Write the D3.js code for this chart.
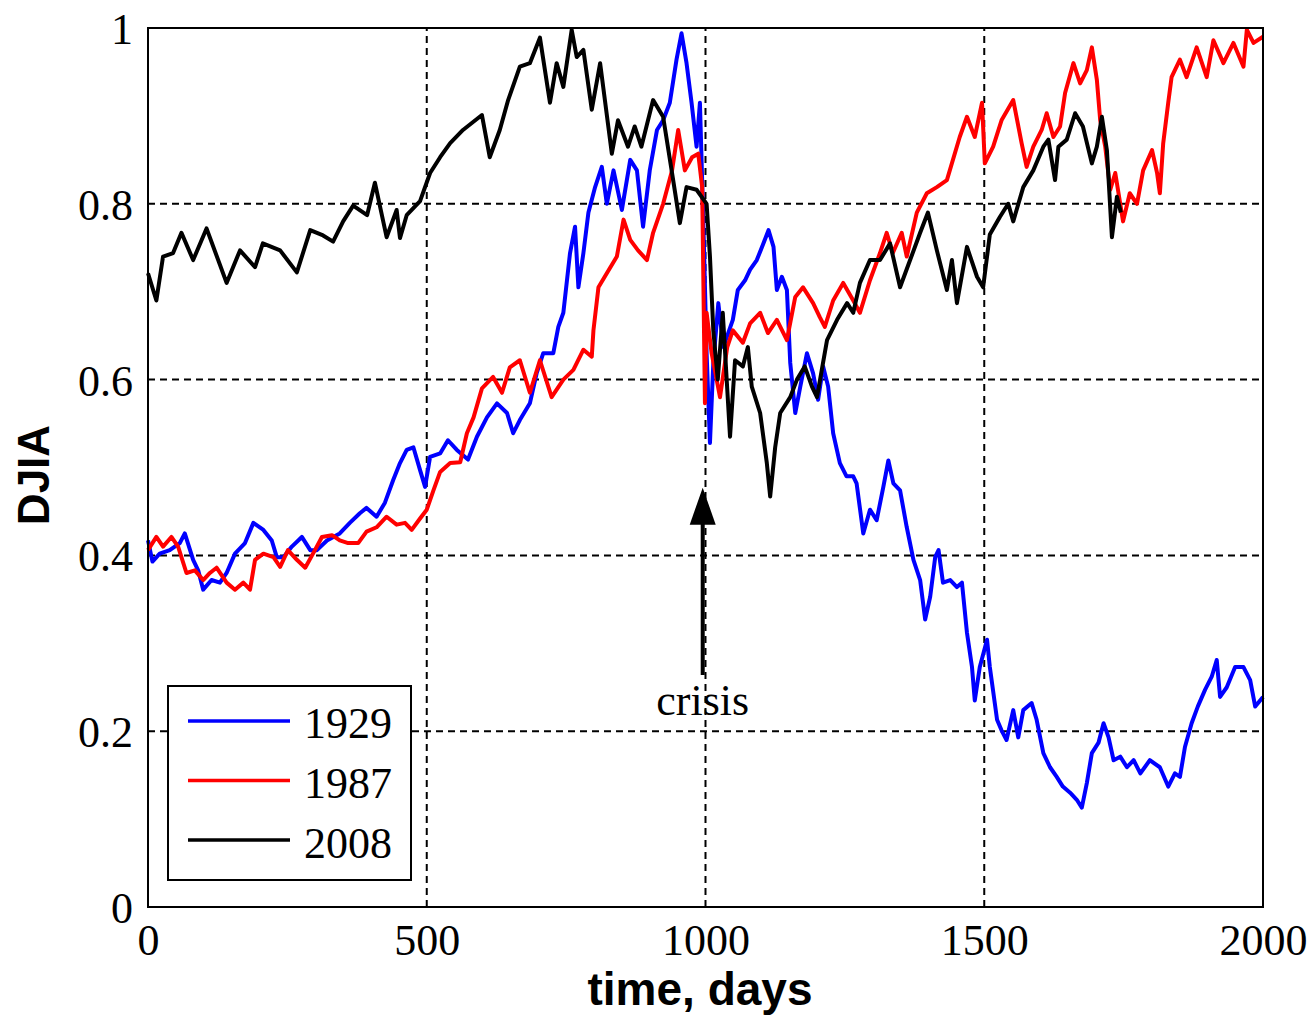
<!DOCTYPE html>
<html lang="en">
<head>
    <meta charset="UTF-8">
    <title>DJIA crises</title>
    <script src="https://d3js.org/d3.v7.min.js"></script>
    <style>
        body { margin: 0; background: #fff; }
        .tick-label { font-family: "Liberation Serif", "Times New Roman", serif; font-size: 44px; fill: #000; }
        .axis-label { font-family: "Liberation Sans", Arial, sans-serif; font-weight: bold; font-size: 46px; fill: #000; }
    </style>
</head>
<body>
    <script>
        // values, day -> normalised DJIA
        const days1929 = [0, 8, 21, 39, 57, 66, 81, 90, 99, 114, 129, 141, 156, 174, 189, 207, 222, 231, 243, 258, 276, 291, 303, 321, 344, 362, 380, 392, 410, 425, 440, 452, 464, 476, 488, 497, 506, 524, 538, 554, 574, 590, 608, 626, 644, 655, 667, 685, 697, 709, 727, 736, 745, 757, 766, 772, 781, 790, 802, 814, 823, 835, 850, 865, 877, 888, 900, 913, 924, 936, 948, 957, 966, 975, 984, 990, 996, 1002, 1008, 1014, 1023, 1032, 1049, 1058, 1071, 1080, 1092, 1104, 1113, 1122, 1128, 1137, 1146, 1152, 1161, 1170, 1182, 1193, 1202, 1211, 1220, 1229, 1241, 1253, 1265, 1271, 1283, 1295, 1307, 1319, 1328, 1337, 1349, 1361, 1373, 1385, 1394, 1403, 1412, 1418, 1426, 1439, 1451, 1460, 1469, 1478, 1483, 1492, 1505, 1510, 1523, 1531, 1540, 1552, 1561, 1570, 1585, 1594, 1606, 1618, 1630, 1641, 1654, 1666, 1675, 1684, 1693, 1705, 1714, 1723, 1732, 1744, 1756, 1768, 1780, 1797, 1815, 1830, 1842, 1851, 1860, 1872, 1883, 1896, 1908, 1917, 1923, 1935, 1950, 1965, 1977, 1986, 2000];
        const djia1929 = [0.417, 0.393, 0.402, 0.406, 0.414, 0.425, 0.395, 0.383, 0.361, 0.372, 0.369, 0.38, 0.402, 0.414, 0.437, 0.429, 0.417, 0.398, 0.398, 0.41, 0.421, 0.406, 0.406, 0.417, 0.425, 0.437, 0.448, 0.454, 0.444, 0.46, 0.486, 0.505, 0.52, 0.523, 0.497, 0.478, 0.512, 0.516, 0.531, 0.52, 0.509, 0.535, 0.557, 0.573, 0.562, 0.539, 0.554, 0.573, 0.607, 0.63, 0.63, 0.66, 0.676, 0.744, 0.774, 0.705, 0.744, 0.79, 0.819, 0.842, 0.80, 0.838, 0.793, 0.85, 0.838, 0.774, 0.838, 0.884, 0.895, 0.915, 0.964, 0.994, 0.96, 0.915, 0.865, 0.915, 0.782, 0.63, 0.528, 0.619, 0.687, 0.637, 0.668, 0.702, 0.713, 0.725, 0.736, 0.755, 0.77, 0.751, 0.702, 0.717, 0.702, 0.619, 0.562, 0.592, 0.63, 0.607, 0.577, 0.615, 0.592, 0.539, 0.505, 0.49, 0.49, 0.482, 0.425, 0.452, 0.44, 0.478, 0.508, 0.482, 0.474, 0.432, 0.395, 0.372, 0.327, 0.353, 0.398, 0.406, 0.369, 0.372, 0.364, 0.369, 0.312, 0.273, 0.235, 0.273, 0.304, 0.273, 0.213, 0.201, 0.19, 0.224, 0.193, 0.224, 0.232, 0.213, 0.175, 0.159, 0.148, 0.137, 0.13, 0.122, 0.113, 0.141, 0.175, 0.187, 0.209, 0.193, 0.167, 0.171, 0.159, 0.167, 0.152, 0.167, 0.159, 0.137, 0.152, 0.148, 0.182, 0.209, 0.228, 0.247, 0.262, 0.281, 0.239, 0.25, 0.273, 0.273, 0.258, 0.228, 0.239];

        const days1987 = [0, 15, 27, 42, 54, 69, 84, 99, 111, 123, 141, 156, 171, 183, 192, 207, 225, 237, 251, 267, 282, 296, 312, 330, 344, 359, 377, 392, 410, 428, 446, 461, 473, 488, 500, 512, 524, 542, 560, 572, 584, 599, 619, 635, 649, 667, 685, 703, 724, 745, 763, 781, 796, 799, 808, 823, 841, 853, 865, 879, 895, 906, 924, 940, 951, 963, 976, 987, 994, 999, 1002, 1011, 1026, 1039, 1049, 1067, 1080, 1098, 1112, 1128, 1146, 1161, 1175, 1193, 1205, 1214, 1229, 1247, 1265, 1277, 1295, 1313, 1325, 1336, 1352, 1361, 1379, 1397, 1415, 1433, 1456, 1469, 1483, 1496, 1501, 1516, 1531, 1552, 1567, 1576, 1588, 1603, 1612, 1624, 1636, 1645, 1660, 1672, 1684, 1693, 1702, 1708, 1717, 1726, 1735, 1749, 1761, 1774, 1785, 1801, 1810, 1815, 1821, 1830, 1836, 1851, 1863, 1881, 1899, 1911, 1929, 1947, 1965, 1971, 1983, 2000];
        const djia1987 = [0.406, 0.421, 0.41, 0.421, 0.41, 0.38, 0.383, 0.372, 0.38, 0.386, 0.369, 0.361, 0.369, 0.361, 0.395, 0.402, 0.398, 0.387, 0.406, 0.395, 0.386, 0.402, 0.421, 0.423, 0.417, 0.414, 0.414, 0.427, 0.432, 0.444, 0.435, 0.437, 0.429, 0.442, 0.452, 0.474, 0.495, 0.505, 0.506, 0.539, 0.557, 0.59, 0.603, 0.585, 0.614, 0.622, 0.585, 0.622, 0.58, 0.60, 0.611, 0.634, 0.626, 0.656, 0.705, 0.721, 0.74, 0.782, 0.759, 0.747, 0.736, 0.767, 0.80, 0.838, 0.884, 0.838, 0.853, 0.857, 0.819, 0.573, 0.676, 0.63, 0.58, 0.637, 0.656, 0.642, 0.664, 0.676, 0.653, 0.668, 0.645, 0.694, 0.705, 0.687, 0.671, 0.66, 0.69, 0.71, 0.69, 0.676, 0.713, 0.744, 0.767, 0.744, 0.767, 0.74, 0.79, 0.812, 0.819, 0.827, 0.876, 0.899, 0.876, 0.915, 0.846, 0.865, 0.895, 0.918, 0.869, 0.842, 0.865, 0.884, 0.903, 0.876, 0.888, 0.926, 0.96, 0.937, 0.952, 0.978, 0.941, 0.895, 0.865, 0.816, 0.835, 0.78, 0.812, 0.80, 0.838, 0.861, 0.835, 0.812, 0.869, 0.915, 0.944, 0.964, 0.944, 0.978, 0.944, 0.986, 0.96, 0.983, 0.956, 0.998, 0.983, 0.99];

        const days2008 = [0, 15, 27, 45, 60, 81, 105, 141, 165, 192, 206, 237, 267, 291, 314, 332, 350, 368, 393, 407, 428, 446, 452, 464, 488, 506, 524, 542, 565, 599, 613, 631, 646, 667, 685, 703, 721, 733, 745, 760, 769, 781, 796, 811, 832, 843, 861, 873, 885, 906, 924, 942, 954, 966, 984, 1002, 1008, 1014, 1022, 1031, 1044, 1053, 1067, 1076, 1083, 1098, 1110, 1116, 1125, 1134, 1152, 1164, 1178, 1191, 1200, 1218, 1236, 1254, 1265, 1277, 1295, 1313, 1331, 1349, 1367, 1385, 1399, 1415, 1433, 1442, 1451, 1469, 1487, 1498, 1510, 1528, 1543, 1552, 1570, 1588, 1606, 1615, 1627, 1633, 1648, 1663, 1677, 1693, 1702, 1711, 1720, 1729, 1738, 1745];
        const djia2008 = [0.721, 0.69, 0.74, 0.744, 0.767, 0.736, 0.772, 0.71, 0.747, 0.728, 0.755, 0.747, 0.722, 0.77, 0.764, 0.757, 0.78, 0.798, 0.787, 0.824, 0.762, 0.793, 0.761, 0.787, 0.803, 0.835, 0.853, 0.869, 0.884, 0.901, 0.853, 0.884, 0.918, 0.956, 0.96, 0.989, 0.915, 0.96, 0.933, 0.998, 0.967, 0.975, 0.907, 0.96, 0.857, 0.895, 0.865, 0.888, 0.865, 0.918, 0.899, 0.827, 0.778, 0.819, 0.816, 0.80, 0.74, 0.656, 0.60, 0.676, 0.535, 0.622, 0.615, 0.637, 0.592, 0.562, 0.505, 0.467, 0.523, 0.562, 0.58, 0.60, 0.615, 0.592, 0.58, 0.645, 0.668, 0.687, 0.676, 0.71, 0.736, 0.736, 0.755, 0.705, 0.736, 0.767, 0.79, 0.747, 0.702, 0.736, 0.687, 0.751, 0.717, 0.705, 0.765, 0.785, 0.80, 0.78, 0.819, 0.838, 0.865, 0.873, 0.827, 0.865, 0.873, 0.903, 0.888, 0.846, 0.865, 0.899, 0.861, 0.762, 0.808, 0.79];

        const seriesNames = ["1929", "1987", "2008"];
        const seriesColors = ["#0000ff", "#ff0000", "#000000"];
        const xTicks = [0, 500, 1000, 1500, 2000];
        const xTickLabels = ["0", "500", "1000", "1500", "2000"];
        const yTicks = [0, 0.2, 0.4, 0.6, 0.8, 1];
        const yTickLabels = ["0", "0.2", "0.4", "0.6", "0.8", "1"];
        const crisisDay = 995;

        const w = 1308;
        const h = 1018;
        const margin = {top: 28, right: 45, bottom: 111, left: 148};

        const svg = d3.select("body")
                      .append("svg")
                      .attr("width", w)
                      .attr("height", h);

        const xScale = d3.scaleLinear()
                         .domain([0, 2000])
                         .range([margin.left, w - margin.right]);

        const yScale = d3.scaleLinear()
                         .domain([0, 1])
                         .range([h - margin.bottom, margin.top]);

        // zip the day / value arrays into point lists
        const zip = (days, vals) => days.map((d, i) => [d, vals[i]]);
        const series = [
            zip(days1929, djia1929),
            zip(days1987, djia1987),
            zip(days2008, djia2008)
        ];

        // dashed grid
        svg.append("g")
           .selectAll("line")
           .data(xTicks.slice(1))
           .enter()
           .append("line")
           .attr("x1", d => xScale(d))
           .attr("x2", d => xScale(d))
           .attr("y1", yScale(0))
           .attr("y2", yScale(1))
           .attr("stroke", "#000")
           .attr("stroke-width", 2)
           .attr("stroke-dasharray", "7,5");

        svg.append("g")
           .selectAll("line")
           .data(yTicks.slice(1, -1))
           .enter()
           .append("line")
           .attr("x1", xScale(0))
           .attr("x2", xScale(2000))
           .attr("y1", d => yScale(d))
           .attr("y2", d => yScale(d))
           .attr("stroke", "#000")
           .attr("stroke-width", 2)
           .attr("stroke-dasharray", "7,5");

        // data lines
        const line = d3.line()
                       .x(d => xScale(d[0]))
                       .y(d => yScale(d[1]));

        svg.append("g")
           .selectAll("path")
           .data(series)
           .enter()
           .append("path")
           .attr("d", line)
           .attr("fill", "none")
           .attr("stroke", (d, i) => seriesColors[i])
           .attr("stroke-width", 4)
           .attr("stroke-linejoin", "round");

        // frame
        svg.append("rect")
           .attr("x", xScale(0))
           .attr("y", yScale(1))
           .attr("width", xScale(2000) - xScale(0))
           .attr("height", yScale(0) - yScale(1))
           .attr("fill", "none")
           .attr("stroke", "#000")
           .attr("stroke-width", 2);

        // axes (labels only, Matlab style)
        const xAxis = d3.axisBottom(xScale)
                        .tickValues(xTicks)
                        .tickSize(0)
                        .tickFormat((d, i) => xTickLabels[i]);
        const yAxis = d3.axisLeft(yScale)
                        .tickValues(yTicks)
                        .tickSize(0)
                        .tickFormat((d, i) => yTickLabels[i]);

        const gx = svg.append("g")
                      .attr("transform", `translate(0, ${h - margin.bottom})`)
                      .call(xAxis);
        gx.select(".domain").remove();
        gx.selectAll("text")
          .attr("class", "tick-label")
          .attr("y", 48)
          .attr("dy", null);

        const gy = svg.append("g")
                      .attr("transform", `translate(${margin.left}, 0)`)
                      .call(yAxis);
        gy.select(".domain").remove();
        gy.selectAll("text")
          .attr("class", "tick-label")
          .attr("x", -15)
          .attr("dy", "0.35em");

        // axis titles
        svg.append("text")
           .attr("class", "axis-label")
           .attr("x", 700)
           .attr("y", 1005)
           .attr("text-anchor", "middle")
           .text("time, days");

        svg.append("text")
           .attr("class", "axis-label")
           .attr("transform", "translate(49, 475) rotate(-90)")
           .attr("text-anchor", "middle")
           .style("font-size", "44px")
           .text("DJIA");

        // crisis arrow
        const ax = xScale(crisisDay);
        svg.append("line")
           .attr("x1", ax)
           .attr("x2", ax)
           .attr("y1", yScale(0.264))
           .attr("y2", yScale(0.45))
           .attr("stroke", "#000")
           .attr("stroke-width", 4);
        svg.append("path")
           .attr("d", `M${ax},${yScale(0.477)} L${ax - 13},${yScale(0.435)} L${ax + 13},${yScale(0.435)} Z`)
           .attr("fill", "#000");
        svg.append("text")
           .attr("class", "tick-label")
           .attr("x", ax)
           .attr("y", yScale(0.218))
           .attr("text-anchor", "middle")
           .text("crisis");

        // legend
        const legend = svg.append("g")
                          .attr("transform", "translate(168, 686)");
        legend.append("rect")
              .attr("width", 243)
              .attr("height", 194)
              .attr("fill", "#fff")
              .attr("stroke", "#000")
              .attr("stroke-width", 2);
        seriesNames.forEach((name, i) => {
            legend.append("line")
                  .attr("x1", 20)
                  .attr("x2", 122)
                  .attr("y1", 35 + i * 59.5)
                  .attr("y2", 35 + i * 59.5)
                  .attr("stroke", seriesColors[i])
                  .attr("stroke-width", 3.5);
            legend.append("text")
                  .attr("class", "tick-label")
                  .attr("x", 136)
                  .attr("y", 52 + i * 60)
                  .text(name);
        });
    </script>
</body>
</html>
